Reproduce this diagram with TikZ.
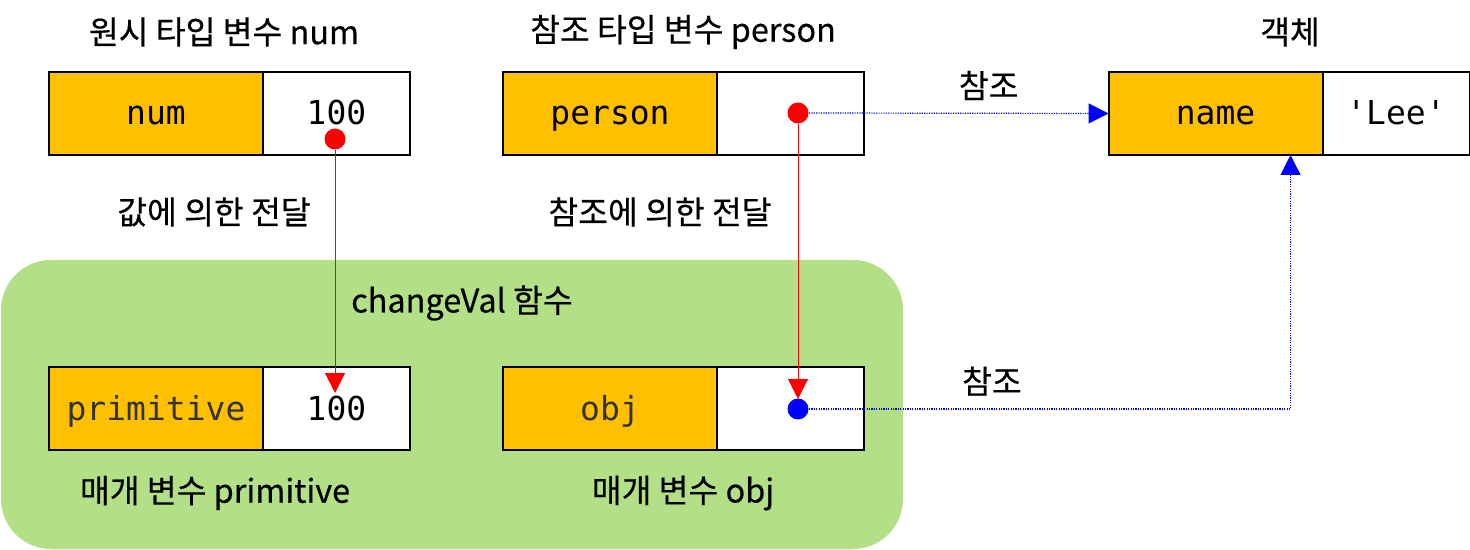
\documentclass[tikz,border=0pt]{standalone}
\usepackage{fontspec}
\setmainfont{Noto Sans CJK KR}
\setmonofont{DejaVu Sans Mono}
\usetikzlibrary{positioning, arrows.meta}
\definecolor{keyfill}{HTML}{FFC000}
\definecolor{fnfill}{HTML}{B3DF87}
\tikzset{
  cell/.style={draw, line width=1pt, outer sep=0pt, inner sep=0pt, minimum height=41.5pt,
    text height=14pt, text depth=2.5pt, font=\fontsize{16.5}{19}\selectfont\ttfamily},
  key/.style={cell, fill=keyfill, minimum width=107pt},
  val/.style={cell, fill=white, minimum width=73.5pt},
  txt/.style={text=black, font=\fontsize{16.2}{19}\selectfont\addfontfeature{FakeBold=0.4}},
  dot/.style={circle, inner sep=0pt, minimum size=10.5pt},
  pass/.style={red, line width=0.5pt, -{Triangle[length=10pt,width=10pt]}},
  ref/.style={blue, dash pattern=on 0.6pt off 0.6pt, line width=0.6pt, -{Triangle[length=10pt,width=10pt]}},
}

\begin{document}
\begin{tikzpicture}[x=0.5pt, y=-0.5pt]
  \useasboundingbox (0,0) rectangle (1470,550);
  \fill[fnfill, rounded corners=25pt] (1,260) rectangle (903,549);

  \node[txt] (numtitle)    at (224,32)  {원시 타입 변수 num};
  \node[txt] (persontitle) at (683,32)  {참조 타입 변수 person};
  \node[txt] (objtitle)    at (1290,32) {객체};

  \node[key]                     (num)       at (156,113.5)  {num};
  \node[val,right=0pt of num]    (numval)    {100};
  \node[key]                     (person)    at (610,113.5)  {person};
  \node[val,right=0pt of person] (personval) {};
  \node[key]                     (name)      at (1215.5,113.5) {name};
  \node[val,right=0pt of name]   (nameval)   {'Lee'};

  \node[txt] (byval) at (214,212) {값에 의한 전달};
  \node[txt] (byref) at (660,212) {참조에 의한 전달};
  \node[txt] (fn)    at (462,303) {changeVal 함수};

  \node[key,text=black!80]       (prim)      at (156,408.5)  {primitive};
  \node[val,right=0pt of prim]   (primval)   {100};
  \node[key,text=black!80]       (obj)       at (610,408.5)  {obj};
  \node[val,right=0pt of obj]    (objval)    {};

  \node[txt] (primlabel) at (215,493) {매개 변수 primitive};
  \node[txt] (objlabel)  at (683,493) {매개 변수 obj};

  \node[dot,fill=red]  (numdot)    at (335,139) {};
  \node[dot,fill=red]  (persondot) at (798,113) {};
  \node[dot,fill=blue] (objdot)    at (798,409) {};

  \coordinate (primin)  at (335,393);
  \coordinate (objin)   at (798,399);
  \coordinate (nameref) at ([xshift=-16pt]name.south east);

  \draw[pass] (numdot.south) -- (primin);
  \draw[pass] (persondot.south) -- (objin);
  \draw[ref] (persondot.east) -- node[txt,pos=0.6,above=3pt] (refa) {참조} (name.west);
  \draw[ref] (objdot.east) -| node[txt,pos=0.19,above=3pt] (refb) {참조} (nameref);
\end{tikzpicture}
\end{document}
